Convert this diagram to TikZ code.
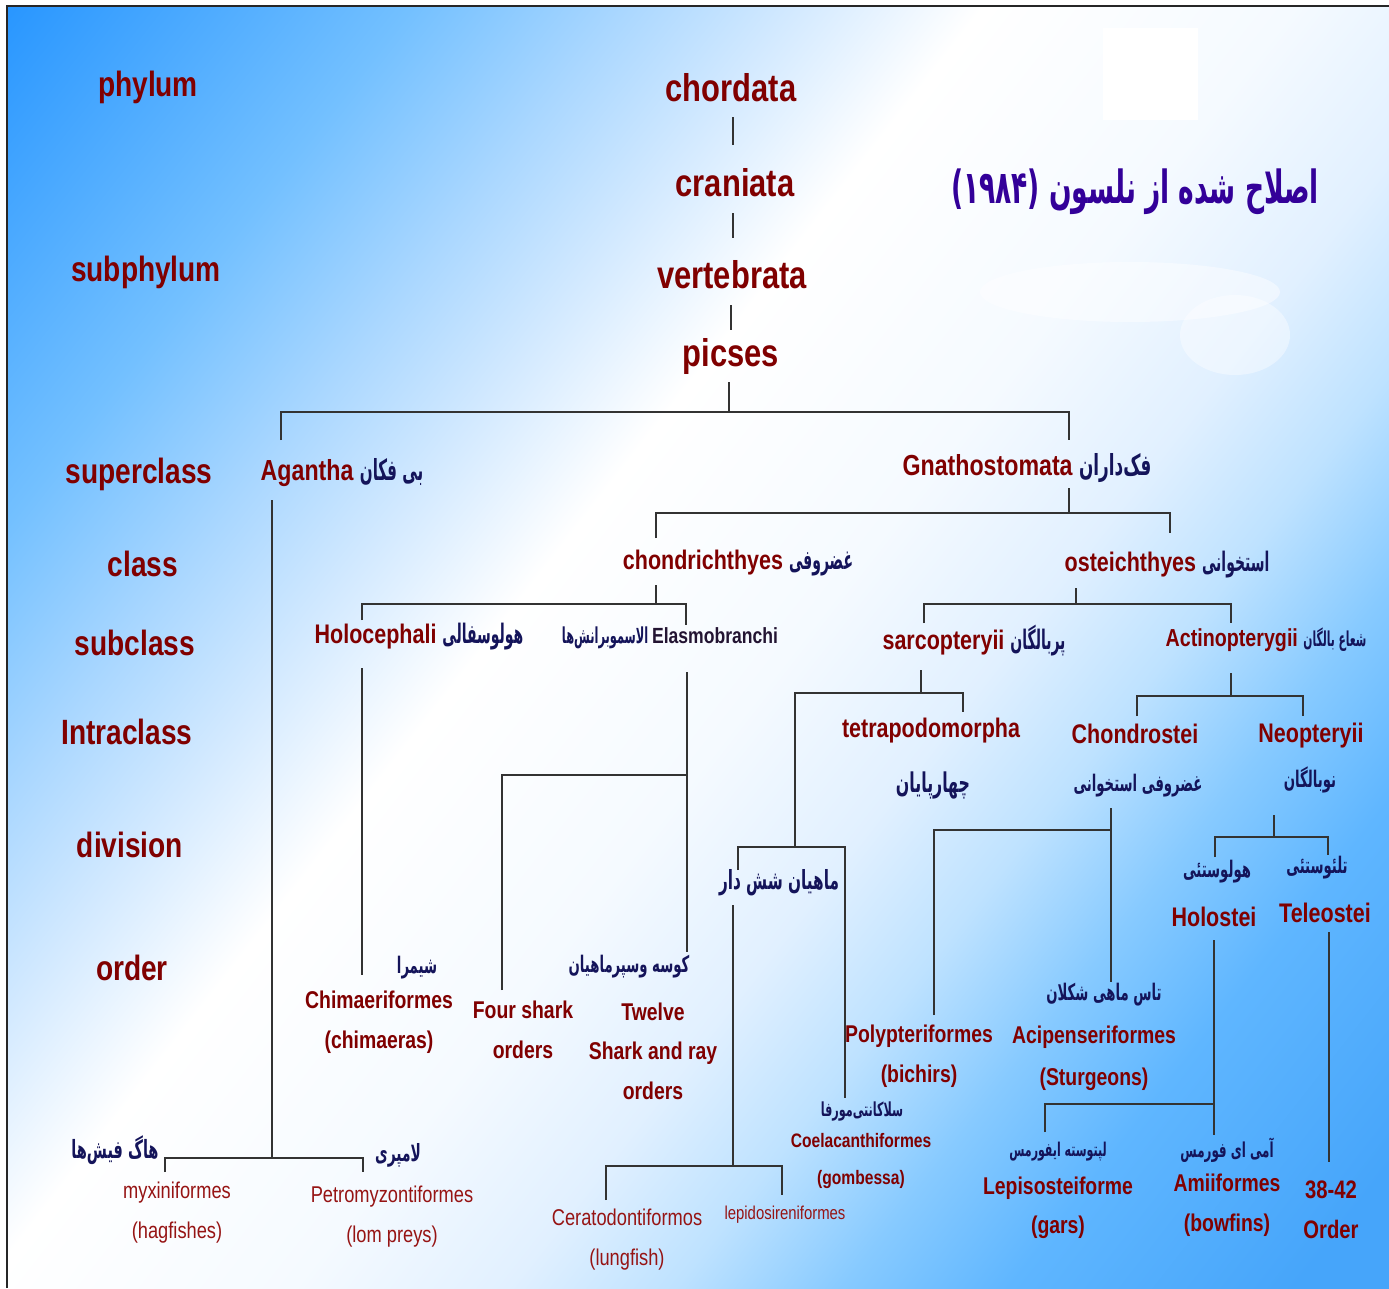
\documentclass[tikz,border=0pt]{standalone}
\usepackage{fontspec}
\setmainfont{Liberation Sans}[FakeStretch=0.8]
\newfontfamily\fafont[Script=Arabic,FakeStretch=0.58]{DejaVu Sans}
\newfontfamily\fanotefont[Script=Arabic,FakeStretch=0.52]{DejaVu Sans}
\TeXXeTstate=1
\usetikzlibrary{positioning}

\definecolor{rankred}{RGB}{128, 0, 0}
\definecolor{lowred}{RGB}{150, 20, 20}
\definecolor{farsinavy}{RGB}{20, 20, 90}
\definecolor{titlepurple}{RGB}{51, 0, 153}
\definecolor{elasmodark}{RGB}{35, 20, 50}
\definecolor{skyA}{RGB}{40, 150, 255}
\definecolor{skyB}{RGB}{115, 192, 255}
\definecolor{skyC}{RGB}{170, 215, 255}
\definecolor{skyD}{RGB}{210, 233, 255}
\definecolor{skyE}{RGB}{245, 250, 255}
\definecolor{skyF}{RGB}{225, 240, 255}
\definecolor{skyG}{RGB}{190, 226, 255}
\definecolor{skyH}{RGB}{135, 202, 255}
\definecolor{skyI}{RGB}{95, 182, 255}
\definecolor{skyJ}{RGB}{70, 165, 250}

\pgfdeclarehorizontalshading{skyfade}{100bp}{color(0bp)=(skyA); color(25bp)=(skyA); color(33.5bp)=(skyB); color(38bp)=(skyC); color(41.5bp)=(skyD); color(45.5bp)=(white); color(52bp)=(skyE); color(56.5bp)=(skyF); color(60bp)=(skyG); color(63.5bp)=(skyH); color(67bp)=(skyI); color(73bp)=(skyJ); color(100bp)=(skyJ)}

\newcommand{\fatext}[1]{{\fafont\bfseries\beginR #1\endR}}
\newcommand{\fanote}[1]{{\color{farsinavy}\fanotefont\bfseries\beginR #1\endR}}

\begin{document}
\begin{tikzpicture}[x=0.02cm, y=-0.02cm,
  rankname/.style={text=rankred, font=\bfseries\fontsize{20}{24}\selectfont},
  chainname/.style={text=rankred, font=\bfseries\fontsize{22}{26}\selectfont},
  taxname/.style={text=rankred, font=\bfseries\fontsize{15.3}{18}\selectfont},
  ordname/.style={text=rankred, align=center, font=\bfseries\fontsize{13.8}{22.5}\selectfont},
  latin/.style={text=lowred, align=center, font=\fontsize{13}{22.7}\selectfont},
  farsi/.style={text=farsinavy, font=\fontsize{13}{16}\selectfont},
  tree/.style={draw=black!80, line width=0.8pt}]
  \useasboundingbox (0,0) rectangle (1389,1288);

  % Background
  \begin{scope}
    \clip (7,6) rectangle (1389,1288);
    \begin{scope}[transform canvas={rotate around={-38:(698,647)}}]
      \shade[shading=skyfade] (-242,-284) rectangle (1638,1578);
    \end{scope}
  \end{scope}
  \fill[white] (1103,28) rectangle (1198,120);
  \fill[white, opacity=0.45] (1130,292) ellipse [x radius=150, y radius=30];
  \fill[white, opacity=0.4] (1235,335) ellipse [x radius=55, y radius=40];
  \draw[black!85, line width=1.6pt] (7,1288) -- (7,6) -- (1389,6);

  % Title
  \node[farsi, text=titlepurple, font=\fontsize{26}{30}\selectfont] (title) at (1135,192) {\fatext{اصلاح شده از نلسون (۱۹۸۴)}};

  % Ranks
  \node[rankname] (phylum) at (148,87) {phylum};
  \node[rankname] (subphylum) at (146,272) {subphylum};
  \node[rankname] (superclass) at (139,474) {superclass};
  \node[rankname] (class) at (143,564) {class};
  \node[rankname] (subclass) at (135,643) {subclass};
  \node[rankname] (intraclass) at (127,732) {Intraclass};
  \node[rankname] (division) at (130,845) {division};
  \node[rankname] (order) at (132,968) {order};

  % Chordata down to picses
  \node[chainname] (chordata) at (731,88) {chordata};
  \node[chainname] (craniata) at (735,183) {craniata};
  \node[chainname] (vertebrata) at (732,275) {vertebrata};
  \node[chainname] (picses) at (731,357) {picses};

  % Superclass to intraclass
  \node[taxname, font=\bfseries\fontsize{16.5}{20}\selectfont] (agantha) at (342,473) {Agantha \fanote{بی فکان}};
  \node[taxname, font=\bfseries\fontsize{16.5}{20}\selectfont] (gnatho) at (1027,468) {Gnathostomata {\color{farsinavy}\fatext{فک‌داران}}};
  \node[taxname] (chondr) at (738,563) {chondrichthyes \fanote{غضروفی}};
  \node[taxname] (osteich) at (1167,565) {osteichthyes \fanote{استخوانی}};
  \node[taxname] (holoceph) at (419,637) {Holocephali \fanote{هولوسفالی}};
  \node[taxname, text=elasmodark, font=\bfseries\fontsize{12.5}{15}\selectfont] (elasmo) at (670,638) {\fanote{الاسموبرانش‌ها}\,Elasmobranchi};
  \node[taxname] (sarco) at (974,641) {sarcopteryii \fanote{پربالگان}};
  \node[taxname, font=\bfseries\fontsize{14}{17}\selectfont] (actino) at (1266,640) {Actinopterygii {\fontsize{11.7}{14}\selectfont\fanote{شعاع بالگان}}};
  \node[taxname] (tetrapodo) at (931,731) {tetrapodomorpha};
  \node[farsi, font=\fontsize{15.5}{18}\selectfont] (tetrapodofa) at (933,785) {\fatext{چهارپایان}};
  \node[taxname] (chondrostei) at (1135,734) {Chondrostei};
  \node[farsi] (chondrosteifa) at (1138,786) {\fatext{غضروفی استخوانی}};
  \node[taxname] (neopt) at (1311,736) {Neopteryii};
  \node[farsi] (neoptfa) at (1310,780) {\fatext{نوبالگان}};

  % Division
  \node[farsi, font=\fontsize{15}{18}\selectfont] (lungfa) at (779,883) {\fatext{ماهیان شش دار}};
  \node[farsi] (holosteifa) at (1217,872) {\fatext{هولوستئی}};
  \node[taxname] (holostei) at (1214,917) {Holostei};
  \node[farsi] (teleosteifa) at (1317,868) {\fatext{تلئوستئی}};
  \node[taxname] (teleostei) at (1325,913) {Teleostei};

  % Orders
  \node[farsi] (chimfa) at (417,968) {\fatext{شیمرا}};
  \node[ordname] (chim) at (379,1022) {Chimaeriformes\\(chimaeras)};
  \node[ordname] (fourshark) at (523,1030) {Four shark\\orders};
  \node[farsi] (sharkfa) at (629,967) {\fatext{کوسه وسپرماهیان}};
  \node[ordname] (twelve) at (653,1051) {Twelve\\Shark and ray\\orders};
  \node[ordname] (polypt) at (919,1056) {Polypteriformes\\(bichirs)};
  \node[farsi] (acipfa) at (1104,995) {\fatext{تاس ماهی شکلان}};
  \node[ordname, font=\bfseries\fontsize{13.8}{23.8}\selectfont] (acip) at (1094,1058) {Acipenseriformes\\(Sturgeons)};
  \node[farsi, font=\fontsize{11}{13}\selectfont] (coelfa) at (862,1112) {\fatext{سلاکانتی‌مورفا}};
  \node[ordname, font=\bfseries\fontsize{11.1}{21}\selectfont] (coel) at (861,1161) {Coelacanthiformes\\(gombessa)};
  \node[latin] (cerat) at (627,1240) {Ceratodontiformos\\(lungfish)};
  \node[latin, font=\fontsize{10.6}{13}\selectfont] (lepid) at (785,1215) {lepidosireniformes};
  \node[farsi, font=\fontsize{10.8}{13}\selectfont] (lepisfa) at (1058,1152) {\fatext{لپتوسته ایفورمس}};
  \node[ordname] (lepis) at (1058,1208) {Lepisosteiforme\\(gars)};
  \node[farsi, font=\fontsize{11.7}{14}\selectfont] (amiifa) at (1227,1150) {\fatext{آمی ای فورمس}};
  \node[ordname] (amii) at (1227,1205) {Amiiformes\\(bowfins)};
  \node[ordname, font=\bfseries\fontsize{14.4}{22.5}\selectfont] (teleord) at (1331,1210) {38-42\\Order};
  \node[farsi, font=\fontsize{14.3}{17}\selectfont] (hagfa) at (115,1150) {\fatext{هاگ فیش‌ها}};
  \node[latin] (myxi) at (177,1213) {myxiniformes\\(hagfishes)};
  \node[farsi, font=\fontsize{13.5}{16}\selectfont] (lampfa) at (398,1155) {\fatext{لامپری}};
  \node[latin] (petro) at (392,1217) {Petromyzontiformes\\(lom preys)};

  % Connector ends
  \foreach \name/\px/\py in {c1/733/117, c2/733/145, c3/733/213, c4/733/238, c5/731/305, c6/731/330,
      p0/729/382, p1/729/412, pa/281/440, pg/1069/440,
      g0/1069/488, g1/1069/513, gc/656/538, go/1170/533,
      a0/272/500, a1/272/1158, am/165/1172, ap/363/1172,
      ch0/656/585, ch1/656/604, chh/362/620, che/686/625,
      os0/1076/588, os1/1076/604, oss/924/623, osa/1231/623,
      ho0/362/668, ho1/362/975,
      el0/687/672, el1/687/775, el2/687/952, elf/502/990,
      sa0/921/670, sa1/921/693, sat/963/712, sal/795/847,
      lu0/738/870, lu1/845/1098,
      lf0/733/905, lf1/733/1166, lfc/606/1200, lfl/782/1195,
      ac0/1231/673, ac1/1231/696, acc/1137/716, acn/1303/716,
      cs0/1111/808, cs1/1111/830, cs2/1111/982, csp/934/1015,
      ne0/1274/815, ne1/1274/837, neh/1215/857, net/1328/855,
      hs0/1214/940, hs1/1214/1104, hs2/1214/1135, hsl/1045/1132,
      te0/1329/932, te1/1329/1162}
    \coordinate (\name) at (\px,\py);

  % Tree
  \draw[tree] (c1) -- (c2);
  \draw[tree] (c3) -- (c4);
  \draw[tree] (c5) -- (c6);
  \draw[tree] (p0) -- (p1);
  \draw[tree] (pa) |- (p1) -| (pg);
  \draw[tree] (g0) -- (g1);
  \draw[tree] (gc) |- (g1) -| (go);
  \draw[tree] (a0) -- (a1);
  \draw[tree] (am) |- (a1) -| (ap);
  \draw[tree] (ch0) -- (ch1);
  \draw[tree] (chh) |- (ch1) -| (che);
  \draw[tree] (os0) -- (os1);
  \draw[tree] (oss) |- (os1) -| (osa);
  \draw[tree] (ho0) -- (ho1);
  \draw[tree] (el0) -- (el2);
  \draw[tree] (elf) |- (el1);
  \draw[tree] (sa0) -- (sa1);
  \draw[tree] (sal) |- (sa1) -| (sat);
  \draw[tree] (lu0) |- (sal) -| (lu1);
  \draw[tree] (lf0) -- (lf1);
  \draw[tree] (lfc) |- (lf1) -| (lfl);
  \draw[tree] (ac0) -- (ac1);
  \draw[tree] (acc) |- (ac1) -| (acn);
  \draw[tree] (cs0) -- (cs2);
  \draw[tree] (csp) |- (cs1);
  \draw[tree] (ne0) -- (ne1);
  \draw[tree] (neh) |- (ne1) -| (net);
  \draw[tree] (hs0) -- (hs2);
  \draw[tree] (hsl) |- (hs1);
  \draw[tree] (te0) -- (te1);
\end{tikzpicture}
\end{document}
